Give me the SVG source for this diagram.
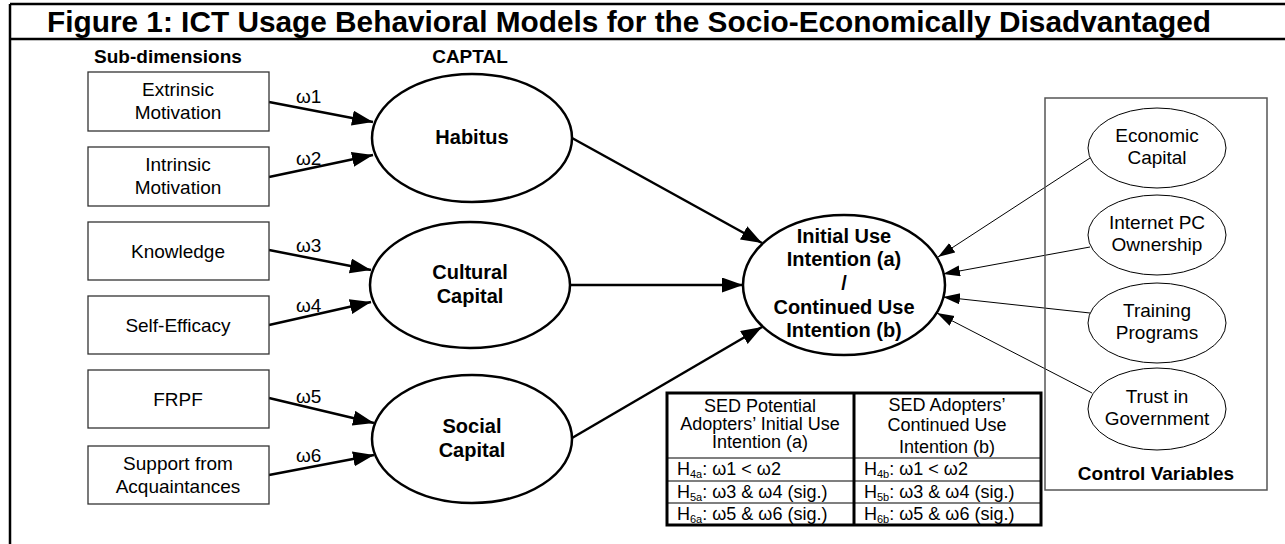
<svg xmlns="http://www.w3.org/2000/svg" width="1285" height="544" viewBox="0 0 1285 544">
<defs>
<style>
text{font-family:"Liberation Sans",Arial,sans-serif;fill:#000}
.title{font-size:29.8px;font-weight:bold}
.hdr{font-size:19px;font-weight:bold;text-anchor:middle}
.box{fill:#fff;stroke:#333;stroke-width:1.3}
.bt{font-size:19px;text-anchor:middle}
.ell{fill:#fff;stroke:#000;stroke-width:2.5}
.et{font-size:20px;font-weight:bold;text-anchor:middle}
.sell{fill:#fff;stroke:#000;stroke-width:1}
.st{font-size:19px;text-anchor:middle}
.w{font-size:19px}
.thick{stroke:#000;stroke-width:2.5;fill:none;marker-end:url(#ah)}
.thin{stroke:#000;stroke-width:1;fill:none;marker-end:url(#ahs)}
.tt{font-size:18px;text-anchor:middle}
.tr{font-size:18px}
.sub{font-size:11px}
</style>
<marker id="ah" markerUnits="userSpaceOnUse" markerWidth="22" markerHeight="16" refX="21" refY="7.5" orient="auto">
<path d="M0,0 L21,7.5 L0,15 z" fill="#000"/>
</marker>
<marker id="ahs" markerUnits="userSpaceOnUse" markerWidth="18" markerHeight="12" refX="17" refY="5.5" orient="auto">
<path d="M0,0 L17,5.5 L0,11 z" fill="#000"/>
</marker>
</defs>
<rect x="0" y="0" width="1285" height="544" fill="#fff"/>
<g id="frame" stroke="#000" stroke-width="2.5" fill="none">
<line x1="10" y1="4" x2="1285" y2="4"/>
<line x1="10" y1="39" x2="1285" y2="39"/>
<line x1="10" y1="4" x2="10" y2="544"/>
</g>
<text class="title" x="629" y="32" text-anchor="middle">Figure 1: ICT Usage Behavioral Models for the Socio-Economically Disadvantaged</text>
<text class="hdr" x="168" y="63">Sub-dimensions</text>
<text class="hdr" x="470" y="63">CAPTAL</text>

<g id="connectors">
<line class="thick" x1="269" y1="102" x2="373" y2="122"/>
<line class="thick" x1="269" y1="177" x2="373" y2="155"/>
<line class="thick" x1="269" y1="250" x2="371" y2="270"/>
<line class="thick" x1="269" y1="325" x2="371" y2="302"/>
<line class="thick" x1="269" y1="398" x2="374" y2="423"/>
<line class="thick" x1="269" y1="475" x2="374" y2="455"/>
<line class="thick" x1="572" y1="138" x2="762" y2="243"/>
<line class="thick" x1="570" y1="285" x2="743" y2="285"/>
<line class="thick" x1="572" y1="438" x2="762" y2="327"/>
<line class="thin" x1="1090" y1="158" x2="938" y2="257"/>
<line class="thin" x1="1090" y1="247" x2="943" y2="274"/>
<line class="thin" x1="1090" y1="313" x2="943" y2="297"/>
<line class="thin" x1="1092" y1="393" x2="937" y2="313"/>
<text class="w" x="296" y="103">ω1</text>
<text class="w" x="296" y="165">ω2</text>
<text class="w" x="296" y="252">ω3</text>
<text class="w" x="296" y="312">ω4</text>
<text class="w" x="296" y="403">ω5</text>
<text class="w" x="296" y="462">ω6</text>
</g>

<g id="extrinsic"><rect class="box" x="88" y="72" width="181" height="59"/><text class="bt" x="178" y="96">Extrinsic</text><text class="bt" x="178" y="119">Motivation</text></g>
<g id="intrinsic"><rect class="box" x="88" y="147" width="181" height="59"/><text class="bt" x="178" y="171">Intrinsic</text><text class="bt" x="178" y="194">Motivation</text></g>
<g id="knowledge"><rect class="box" x="88" y="222" width="181" height="58"/><text class="bt" x="178" y="258">Knowledge</text></g>
<g id="selfefficacy"><rect class="box" x="88" y="296" width="181" height="58"/><text class="bt" x="178" y="332">Self-Efficacy</text></g>
<g id="frpf"><rect class="box" x="88" y="370" width="181" height="58"/><text class="bt" x="178" y="406">FRPF</text></g>
<g id="support"><rect class="box" x="88" y="446" width="181" height="58"/><text class="bt" x="178" y="470">Support from</text><text class="bt" x="178" y="493">Acquaintances</text></g>

<g id="habitus"><ellipse class="ell" cx="472" cy="138" rx="100" ry="64"/><text class="et" x="472" y="144">Habitus</text></g>
<g id="cultural"><ellipse class="ell" cx="470" cy="285" rx="100" ry="63"/><text class="et" x="470" y="279">Cultural</text><text class="et" x="470" y="303">Capital</text></g>
<g id="social"><ellipse class="ell" cx="472" cy="439" rx="100" ry="64"/><text class="et" x="472" y="433">Social</text><text class="et" x="472" y="457">Capital</text></g>

<g id="intention"><ellipse class="ell" cx="844" cy="285" rx="101" ry="70"/>
<text class="et" x="844" y="243">Initial Use</text>
<text class="et" x="844" y="266">Intention (a)</text>
<text class="et" x="844" y="290">/</text>
<text class="et" x="844" y="314">Continued Use</text>
<text class="et" x="844" y="337">Intention (b)</text></g>

<g id="controls">
<rect x="1045" y="98" width="222" height="392" fill="none" stroke="#555" stroke-width="1.5"/>
<text class="hdr" x="1156" y="480">Control Variables</text>
</g>
<g id="economic"><ellipse class="sell" cx="1157" cy="148" rx="69" ry="40"/><text class="st" x="1157" y="142">Economic</text><text class="st" x="1157" y="164">Capital</text></g>
<g id="internet"><ellipse class="sell" cx="1157" cy="235" rx="69" ry="40"/><text class="st" x="1157" y="229">Internet PC</text><text class="st" x="1157" y="251">Ownership</text></g>
<g id="training"><ellipse class="sell" cx="1157" cy="323" rx="69" ry="40"/><text class="st" x="1157" y="317">Training</text><text class="st" x="1157" y="339">Programs</text></g>
<g id="trust"><ellipse class="sell" cx="1157" cy="409" rx="69" ry="41"/><text class="st" x="1157" y="403">Trust in</text><text class="st" x="1157" y="425">Government</text></g>

<g id="table">
<rect x="667" y="393" width="374" height="132" fill="#fff" stroke="#000" stroke-width="3"/>
<line x1="854" y1="393" x2="854" y2="525" stroke="#000" stroke-width="3"/>
<g stroke="#000" stroke-width="1.2">
<line x1="667" y1="458" x2="1041" y2="458"/>
<line x1="667" y1="481" x2="1041" y2="481"/>
<line x1="667" y1="503" x2="1041" y2="503"/>
</g>
<text class="tt" x="760" y="412">SED Potential</text>
<text class="tt" x="760" y="430">Adopters’ Initial Use</text>
<text class="tt" x="760" y="448">Intention (a)</text>
<text class="tt" x="947" y="411">SED Adopters’</text>
<text class="tt" x="947" y="431">Continued Use</text>
<text class="tt" x="947" y="453">Intention (b)</text>
<text class="tr" x="677" y="475">H<tspan class="sub" dy="3">4a</tspan><tspan dy="-3">: ω1 &lt; ω2</tspan></text>
<text class="tr" x="677" y="498">H<tspan class="sub" dy="3">5a</tspan><tspan dy="-3">: ω3 &amp; ω4 (sig.)</tspan></text>
<text class="tr" x="677" y="520">H<tspan class="sub" dy="3">6a</tspan><tspan dy="-3">: ω5 &amp; ω6 (sig.)</tspan></text>
<text class="tr" x="864" y="475">H<tspan class="sub" dy="3">4b</tspan><tspan dy="-3">: ω1 &lt; ω2</tspan></text>
<text class="tr" x="864" y="498">H<tspan class="sub" dy="3">5b</tspan><tspan dy="-3">: ω3 &amp; ω4 (sig.)</tspan></text>
<text class="tr" x="864" y="520">H<tspan class="sub" dy="3">6b</tspan><tspan dy="-3">: ω5 &amp; ω6 (sig.)</tspan></text>
</g>
</svg>
